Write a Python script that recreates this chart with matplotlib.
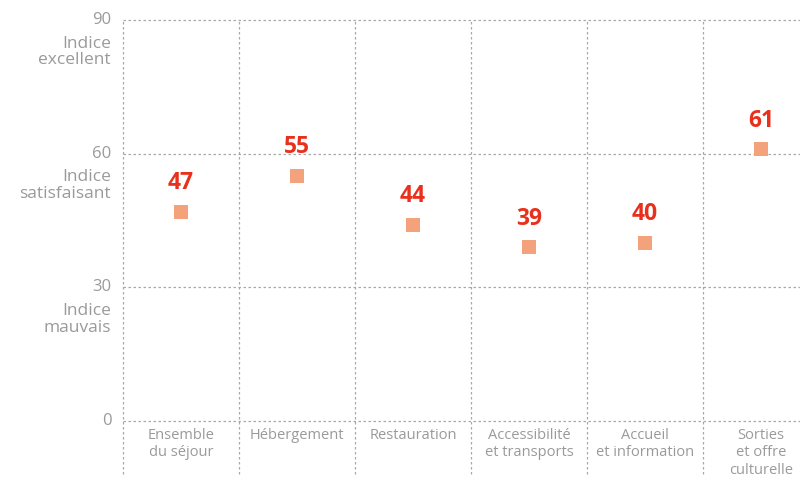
import matplotlib
matplotlib.use("Agg")
import matplotlib.pyplot as plt

categories = ["Ensemble\ndu séjour", "Hébergement", "Restauration",
              "Accessibilité\net transports", "Accueil\net information",
              "Sorties\net offre\nculturelle"]
scores = [47, 55, 44, 39, 40, 61]
yticks = [0, 30, 60, 90]
ytick_notes = ["", "Indice\nmauvais", "Indice\nsatisfaisant", "Indice\nexcellent"]

grey = "#9a9a9a"
grid_col = "#a8a8a8"
plt.rcParams["font.family"] = ["Open Sans", "DejaVu Sans"]

fig = plt.figure(figsize=(8, 4.82), dpi=100)
# axes runs past the right edge like the original
ax = fig.add_axes([123 / 800, 61 / 482, 696 / 800, 401 / 482])
ax.set_xlim(-0.5, len(categories) - 0.5)
ax.set_ylim(0, 90)
for s in ax.spines.values():
    s.set_visible(False)
ax.set_xticks([])
ax.set_yticks([])

for y in yticks:
    ax.axhline(y, color=grid_col, lw=0.9, ls=(0, (2, 2)), clip_on=False)
for i in range(len(categories) + 1):
    ax.vlines(i - 0.5, -12, 90, color=grid_col, lw=0.9, ls=(0, (2, 2)), clip_on=False)

x = list(range(len(categories)))
ax.scatter(x, scores, marker="s", s=110, color="#F4A27C", zorder=3, linewidths=0)
for xi, v in zip(x, scores):
    ax.annotate(str(v), (xi, v), xytext=(0, 12), textcoords="offset points",
                ha="center", va="bottom", color="#E8301C", fontsize=16.5,
                fontweight="bold")

for xi, lab in zip(x, categories):
    ax.text(xi, -1.6, lab, ha="center", va="top", color=grey, fontsize=10.5,
            linespacing=1.2, clip_on=False)

for y, note in zip(yticks, ytick_notes):
    ax.text(-0.6, y, str(y), ha="right", va="center", color=grey, fontsize=12,
            clip_on=False)
    if note:
        ax.text(-0.605, y - 3.5, note, ha="right", va="top", color=grey,
                fontsize=12.5, linespacing=1.05, clip_on=False)

fig.savefig("out.png", dpi=100)
